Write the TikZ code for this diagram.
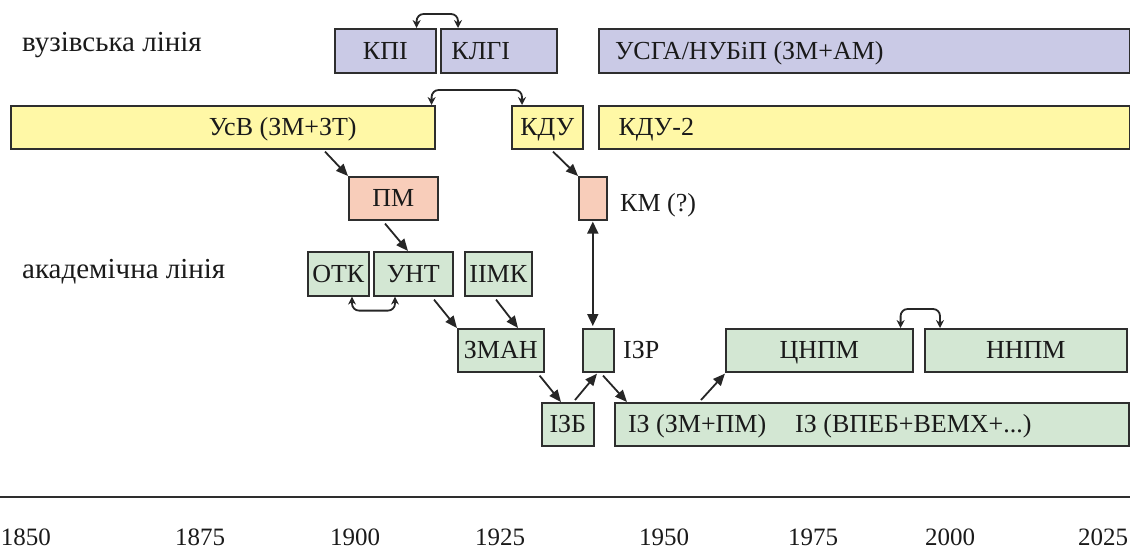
\documentclass[tikz,border=0pt]{standalone}
\usepackage{fontspec}
\setmainfont{Liberation Serif}
\usetikzlibrary{arrows.meta,calc}
\definecolor{cblue}{HTML}{CACAE6}
\definecolor{cyellow}{HTML}{FFF8A6}
\definecolor{csalmon}{HTML}{F8CDBA}
\definecolor{cgreen}{HTML}{D3E7D3}
\definecolor{cline}{HTML}{2E2E2E}
\definecolor{ctext}{HTML}{1A1A1A}
\tikzset{
  txt/.style={inner sep=0pt, text=ctext, font=\fontsize{26}{30}\selectfont},
  box/.style={txt, draw=cline, line width=1.6pt, anchor=north west, text height=17pt, text depth=0pt},
  wh/.style 2 args={minimum width=#1pt, minimum height=#2pt},
  bluebox/.style={box, fill=cblue},
  yelbox/.style={box, fill=cyellow},
  salbox/.style={box, fill=csalmon},
  grnbox/.style={box, fill=cgreen},
  lbl/.style={txt, anchor=base west},
  biglbl/.style={lbl, font=\fontsize{29}{34}\selectfont},
  year/.style={txt, font=\fontsize{25}{30}\selectfont},
  arr/.style={-{Triangle[length=12pt,width=10pt]}, line width=1.8pt, draw=black!85},
  darr/.style={{Triangle[length=12pt,width=11pt]}-{Triangle[length=12pt,width=11pt]}, line width=1.8pt, draw=black!85},
  arcc/.style={{Stealth[length=8pt,width=8pt]}-{Stealth[length=8pt,width=8pt]}, line width=1.8pt, draw=black!85, rounded corners=7pt},
}
\begin{document}
\begin{tikzpicture}[x=1pt,y=-1pt]
\useasboundingbox (0,0) rectangle (1130,550);
% labels
\node[biglbl] (vuz) at (22,51) {вузівська лінія};
\node[biglbl] (akad) at (22,278) {академічна лінія};
% blue row
\node[bluebox, wh={101}{44}] (kpi) at (334,28) {КПІ};
\node[bluebox, wh={116}{44}] (klgi) at (440,28) {КЛГІ\hspace*{36pt}};
\node[bluebox, wh={531}{44}] (usga) at (598,28) {УСГА/НУБіП (ЗМ+АМ)\hspace*{230pt}};
% yellow row
\node[yelbox, wh={424}{43}] (usv) at (10,105) {\hspace*{120pt}УсВ (ЗМ+ЗТ)};
\node[yelbox, wh={71}{43}] (kdu) at (511,105) {КДУ};
\node[yelbox, wh={531}{43}] (kdu2) at (598,105) {КДУ-2\hspace*{416pt}};
% salmon row
\node[salbox, wh={89}{43}] (pm) at (348,176) {ПМ};
\node[salbox, wh={28}{43}] (km) at (578,176) {};
\node[lbl] (kmlabel) at (620,211) {КМ (?)};
% green rows
\node[grnbox, wh={61}{44}] (otk) at (307,251) {ОТК};
\node[grnbox, wh={79}{44}] (unt) at (373,251) {УНТ};
\node[grnbox, wh={67}{44}] (iimk) at (464,251) {ІІМК};
\node[grnbox, wh={86}{43}] (zman) at (457,328) {ЗМАН};
\node[grnbox, wh={31}{43}] (izr) at (582,328) {};
\node[lbl] (izrlabel) at (623,358) {ІЗР};
\node[grnbox, wh={187}{43}] (cnpm) at (725,328) {ЦНПМ};
\node[grnbox, wh={202}{43}] (nnpm) at (924,328) {ННПМ};
\node[grnbox, wh={52}{43}] (izb) at (541,402) {ІЗБ};
\node[grnbox, wh={514}{43}] (iz) at (614,402) {ІЗ (ЗМ+ПМ)\hspace{29pt}ІЗ (ВПЕБ+ВЕМХ+...)\hspace*{84pt}};
% arcs
\draw[arcc] ([xshift=-20pt]kpi.north east) -- ++(0,-14) -| ([xshift=18pt]klgi.north west);
\draw[arcc] ([xshift=-4pt]usv.north east) -- ++(0,-15) -| ([xshift=11pt]kdu.north west);
\draw[arcc] ([xshift=45pt]otk.south west) -- ++(0,14) -| ([xshift=22pt]unt.south west);
\draw[arcc] ([xshift=-13pt]cnpm.north east) -- ++(0,-19) -| ([xshift=16pt]nnpm.north west);
% arrows
\draw[arr] ([xshift=315pt,yshift=-2pt]usv.south west) -- (pm.north west);
\draw[arr] ([xshift=42pt,yshift=-2pt]kdu.south west) -- (km.north west);
\draw[arr] ([xshift=37pt,yshift=-3pt]pm.south west) -- ([xshift=35pt]unt.north west);
\draw[arr] ([xshift=61pt,yshift=-3pt]unt.south west) -- (zman.north west);
\draw[arr] ([xshift=32pt,yshift=-3pt]iimk.south west) -- ([xshift=61pt]zman.north west);
\draw[arr] ([xshift=-5pt,yshift=-3pt]zman.south east) -- ([xshift=20pt]izb.north west);
\draw[arr] ([xshift=34pt,yshift=2pt]izb.north west) -- ([xshift=15pt,yshift=-1pt]izr.south west);
\draw[arr] ([xshift=21pt,yshift=-3pt]izr.south west) -- ([xshift=13pt]iz.north west);
\draw[arr] ([xshift=87pt,yshift=2pt]iz.north west) -- ([yshift=-1pt]cnpm.south west);
\draw[darr] ([yshift=-1pt]km.south) -- ([yshift=2pt]km.south |- izr.north);
% timeline
\draw[line width=1.8pt, draw=cline] (0,497) -- (1130,497);
\node[year] (y1850) at (26,537) {1850};
\node[year] (y1875) at (200,537) {1875};
\node[year] (y1900) at (355,537) {1900};
\node[year] (y1925) at (500,537) {1925};
\node[year] (y1950) at (664,537) {1950};
\node[year] (y1975) at (813,537) {1975};
\node[year] (y2000) at (950,537) {2000};
\node[year] (y2025) at (1103,537) {2025};
\end{tikzpicture}
\end{document}
